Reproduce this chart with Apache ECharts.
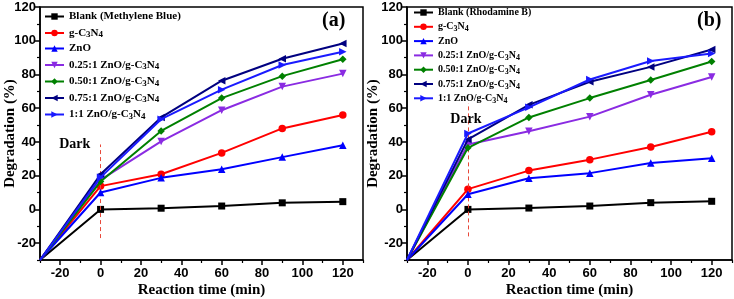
<!DOCTYPE html>
<html><head><meta charset="utf-8">
<script src="https://cdn.jsdelivr.net/npm/echarts@6/dist/echarts.min.js"></script>
<style>html,body{margin:0;padding:0;background:#fff}#c{width:734px;height:299px}</style>
</head><body><div id="c"></div>
<script>
// ---- data ----
const times = [-30, 0, 30, 60, 90, 120];
const namesA = ['Blank (Methylene Blue)', 'g-C3N4', 'ZnO', '0.25:1 ZnO/g-C3N4', '0.50:1 ZnO/g-C3N4', '0.75:1 ZnO/g-C3N4', '1:1 ZnO/g-C3N4'];
const namesB = ['Blank (Rhodamine B)', 'g-C3N4', 'ZnO', '0.25:1 ZnO/g-C3N4', '0.50:1 ZnO/g-C3N4', '0.75:1 ZnO/g-C3N4', '1:1 ZnO/g-C3N4'];
const blankA = [-30, 0, 0.7, 2, 3.9, 4.6];
const gcnA   = [-30, 13.8, 20.8, 33.5, 48, 56];
const znoA   = [-30, 10, 18.7, 23.8, 31, 38];
const r025A  = [-30, 17.5, 40.3, 58.8, 72.8, 80.5];
const r050A  = [-30, 16.5, 46.5, 66, 79, 89];
const r075A  = [-30, 20.8, 54.5, 76.3, 89.3, 98.4];
const r100A  = [-30, 19, 53.5, 71, 85.6, 93.5];
const blankB = [-30, 0, 0.8, 2, 4, 4.8];
const gcnB   = [-30, 12, 23, 29.5, 37, 46];
const znoB   = [-30, 9, 18.5, 21.5, 27.5, 30.3];
const r025B  = [-30, 38.5, 46.3, 55, 68, 78.5];
const r050B  = [-30, 36.5, 54.5, 66, 76.7, 87.7];
const r075B  = [-30, 41.5, 62, 75.7, 84.5, 94.8];
const r100B  = [-30, 45, 60.5, 77, 88, 92.5];
const xLabels = [-20, 0, 20, 40, 60, 80, 100, 120];
const xMinor = [-30, -10, 10, 30, 50, 70, 90, 110, 130];
const yLabels = [-20, 0, 20, 40, 60, 80, 100, 120];
const yMinor = [-30, -10, 10, 30, 50, 70, 90, 110];
const darkLineA = [-17, 38.5];
const darkLineB = [-16, 63];

const colors = ['#000000', '#ff0000', '#0000ff', '#8a2be2', '#008000', '#000080', '#1a1aff'];
const symbols = ['rect', 'circle', 'triangle', 'triangle', 'diamond', 'triangle', 'triangle'];
const rotates = [0, 0, 0, 180, 0, 90, -90];

const serif = '"Liberation Serif","Times New Roman",serif';
const sans = '"Liberation Sans",Arial,sans-serif';

function mkSeries(name, vals, i, gi) {
  const data = vals.map((v, k) => k === 0 ? {value: [times[k], v], symbol: 'none'} : [times[k], v]);
  return {
    type: 'line', name, data, xAxisIndex: gi * 2, yAxisIndex: gi * 2,
    symbol: symbols[i], symbolRotate: rotates[i], symbolSize: i === 0 ? 7 : 7.5,
    itemStyle: {color: colors[i]}, lineStyle: {color: colors[i], width: 2},
    z: 3 + i, animation: false
  };
}
function xAx(gi) {
  return [
    {type: 'value', gridIndex: gi, min: -30, max: 130, interval: 10, position: 'bottom',
     axisLine: {onZero: false, lineStyle: {color: '#000', width: 1.5}}, splitLine: {show: false},
     axisTick: {customValues: xLabels, length: 5, lineStyle: {color: '#000', width: 1.5}},
     axisLabel: {customValues: xLabels, color: '#000', fontWeight: 'bold', fontFamily: sans, fontSize: 13, margin: 7},
     name: 'Reaction time (min)', nameLocation: 'middle', nameGap: 23, nameMoveOverlap: false,
     nameTextStyle: {fontFamily: serif, fontWeight: 'bold', fontSize: 15, color: '#000', verticalAlign: 'top'}},
    {type: 'value', gridIndex: gi, min: -30, max: 130, interval: 10, position: 'bottom',
     axisLine: {show: false, onZero: false}, splitLine: {show: false}, axisLabel: {show: false},
     axisTick: {customValues: xMinor, length: 3, lineStyle: {color: '#000', width: 1.2}}}
  ];
}
function yAx(gi, gap) {
  return [
    {type: 'value', gridIndex: gi, min: -30, max: 120, interval: 10, position: 'left',
     axisLine: {show: true, onZero: false, lineStyle: {color: '#000', width: 1.5}}, splitLine: {show: false},
     axisTick: {show: true, customValues: yLabels, length: 5, lineStyle: {color: '#000', width: 1.5}},
     axisLabel: {customValues: yLabels, color: '#000', fontWeight: 'bold', fontFamily: sans, fontSize: 13, margin: 4},
     name: 'Degradation (%)', nameLocation: 'middle', nameGap: gap, nameRotate: 90, nameMoveOverlap: false,
     nameTextStyle: {fontFamily: serif, fontWeight: 'bold', fontSize: 15, color: '#000', verticalAlign: 'bottom'}},
    {type: 'value', gridIndex: gi, min: -30, max: 120, interval: 10, position: 'left',
     axisLine: {show: false, onZero: false}, splitLine: {show: false}, axisLabel: {show: false},
     axisTick: {show: true, customValues: yMinor, length: 3, lineStyle: {color: '#000', width: 1.2}}}
  ];
}
function legendFmt(n) { return n.replace(/C3N4/, 'C{s|3}N{s|4}'); }
function mkLegend(names, left, top, fs, gap) {
  return {
    orient: 'vertical', left, top, itemWidth: 19, itemHeight: 8, itemGap: gap, padding: 0,
    data: names, formatter: legendFmt, selectedMode: false,
    textStyle: {fontFamily: serif, fontWeight: 'bold', fontSize: fs, color: '#000', lineHeight: 13,
      rich: {s: {fontFamily: serif, fontWeight: 'bold', fontSize: fs - 2, color: '#000', verticalAlign: 'bottom', lineHeight: 13, padding: [5, 0, 0, 0]}}}
  };
}
function darkLine(gi, seg, labelCoord) {
  return {
    type: 'line', xAxisIndex: gi * 2, yAxisIndex: gi * 2, data: [], silent: true, animation: false,
    markLine: {symbol: 'none', silent: true, animation: false,
      lineStyle: {color: '#e8493a', type: [4, 3], width: 1},
      label: {show: false},
      data: [[{coord: [0, seg[0]]}, {coord: [0, seg[1]]}]]},
    markPoint: {symbol: 'circle', symbolSize: 0, silent: true, animation: false,
      data: [{coord: labelCoord, label: {show: true, formatter: 'Dark', fontFamily: serif, fontWeight: 'bold', fontSize: 14, color: '#000', position: 'inside'}}]}
  };
}

const seriesA = [blankA, gcnA, znoA, r025A, r050A, r075A, r100A].map((v, i) => mkSeries(namesA[i], v, i, 0));
const seriesB = [blankB, gcnB, znoB, r025B, r050B, r075B, r100B].map((v, i) => mkSeries(namesB[i], v, i, 1));

const chart = echarts.init(document.getElementById('c'), null, {renderer: 'canvas'});
chart.setOption({
  backgroundColor: '#fff',
  animation: false,
  grid: [
    {left: 40, right: 371, top: 7, bottom: 39, outerBoundsMode: 'none', containLabel: false, show: true, borderColor: '#000', borderWidth: 1.5, backgroundColor: 'transparent'},
    {left: 407, right: 2, top: 7, bottom: 39, outerBoundsMode: 'none', containLabel: false, show: true, borderColor: '#000', borderWidth: 1.5, backgroundColor: 'transparent'}
  ],
  xAxis: [...xAx(0), ...xAx(1)],
  yAxis: [...yAx(0, 22), ...yAx(1, 26)],
  legend: [mkLegend(namesA, 44, 10, 11, 2.5), mkLegend(namesB, 413, 6, 10, 1.3)],
  graphic: [
    {type: 'text', left: 322, top: 11, style: {text: '(a)', fontFamily: serif, fontWeight: 'bold', fontSize: 20, fill: '#000'}},
    {type: 'text', left: 697, top: 11, style: {text: '(b)', fontFamily: serif, fontWeight: 'bold', fontSize: 20, fill: '#000'}}
  ],
  series: [...seriesA, ...seriesB, darkLine(0, darkLineA, [-12.8, 38.7]), darkLine(1, darkLineB, [-1, 53.5])]
});
</script></body></html>
